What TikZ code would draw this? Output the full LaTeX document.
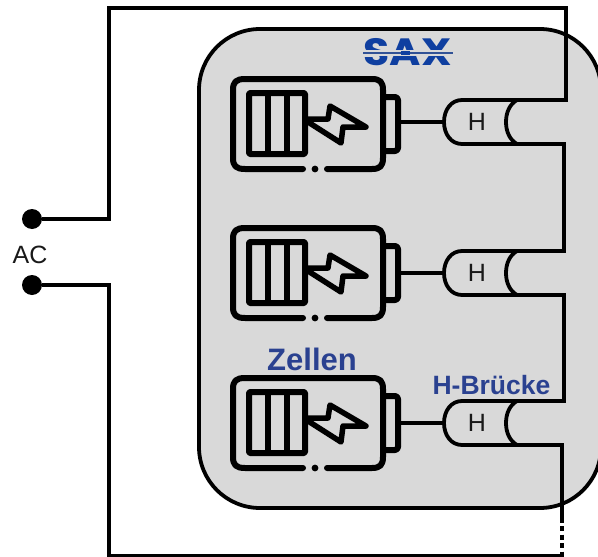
\documentclass[tikz,border=0pt]{standalone}
\usepackage{fontspec}
\setmainfont{Liberation Sans}
\newfontfamily\logofont{Poppins}
\definecolor{boxgray}{HTML}{D9D9D9}
\definecolor{labelblue}{HTML}{2A4190}
\definecolor{logoblue}{HTML}{0F3FA0}
\tikzset{
  wire/.style={line width=3.6pt,line cap=butt,line join=miter},
  batline/.style={line width=6pt,line join=round,line cap=round},
  bridge/.style={line width=3.8pt,line cap=round},
  plain/.style={font=\fontsize{25}{25}\selectfont,text=black!90,inner sep=0pt},
  bluelabel/.style={font=\fontsize{26.5}{27}\selectfont\bfseries,text=labelblue,inner sep=0pt},
  terminal/.style={circle,fill=black,inner sep=0pt,minimum size=20pt},
  pics/battery/.style={code={
    \draw[batline] (303,169)--(245,169) .. controls (236,169) and (233,166) .. (233,158)
       -- (233,90) .. controls (233,82) and (236,79) .. (245,79) -- (372,79) .. controls (380,79) and (383,82) .. (383,90)
       -- (383,158) .. controls (383,166) and (380,169) .. (372,169) -- (327,169);
    \fill (315,169) circle (3.4pt);
    \draw[batline,rounded corners=1pt] (249,93) rectangle (305,154);
    \draw[line width=6pt] (268,93)--(268,154) (287,93)--(287,154);
    \draw[line width=5.5pt,line join=round,line cap=round] (308,119)--(328,119)--(330,106)--(366,127)--(343,127)--(341,143)--(308,122);
    \draw[batline,rounded corners=3pt] (384,97)--(398,97)--(398,151)--(384,151);
  }},
  pics/hbridge/.style={code={
    \draw[bridge] (519,100)--(462,100) .. controls (451,100) and (444,110) .. (444,122) .. controls (444,134) and (451,144) .. (462,144)--(519,144);
    \draw[bridge] (517,100) .. controls (510,104) and (506,112) .. (506,122) .. controls (506,132) and (510,140) .. (517,144);
  }}
}
\begin{document}
\begin{tikzpicture}[x=1pt,y=-1pt]
\useasboundingbox (0,0) rectangle (598,557);
\begin{scope}
\clip (0,0) rectangle (598,557);
\draw[fill=boxgray,line width=3.8pt,rounded corners=61pt] (199,29) rectangle (601,508);
\end{scope}

% logo
\node[inner sep=0pt,text=logoblue] (logo) at (407.5,52.5) {\scalebox{1.12}[1]{\logofont\fontsize{38}{38}\selectfont\bfseries SAX}};
\fill[boxgray] (358,50) rectangle (457,56);
\draw[logoblue!70!gray,line width=1.2pt] (363,53)--(453,53);
\fill[logoblue] (401,51) rectangle (410,55);

% batteries
\pic {battery};
\pic[yshift=-149pt] {battery};
\pic[yshift=-299pt] {battery};

% bridges
\pic {hbridge};
\pic[yshift=-151pt] {hbridge};
\pic[yshift=-301pt] {hbridge};
\node[plain] (h1) at (477,122) {H};
\node[plain] (h2) at (477,273) {H};
\node[plain] (h3) at (477,423) {H};

\coordinate (b1) at (401,122); \coordinate (l1) at (444,122);
\coordinate (b2) at (401,273); \coordinate (l2) at (444,273);
\coordinate (b3) at (401,423); \coordinate (l3) at (444,423);
\draw[wire] (b1)--(l1);
\draw[wire] (b2)--(l2);
\draw[wire] (b3)--(l3);

% AC terminals and wiring
\node[terminal] (ac1) at (32,219) {};
\node[terminal] (ac2) at (32,285) {};
\node[plain] (ac) at (30,255) {AC};
\coordinate (t1) at (566,100);
\coordinate (t2) at (564,144);
\coordinate (t3) at (564,251);
\coordinate (t4) at (564,295);
\coordinate (t5) at (564,401);
\coordinate (t6) at (562,445);
\draw[wire] (ac1)--(109,219)--(109,8)--(566,8)--(t1)--(517,100);
\draw[wire] (517,144)--(t2)--(t3)--(517,251);
\draw[wire] (517,295)--(t4)--(t5)--(517,401);
\draw[wire] (517,445)--(t6)--(562,523);
\draw[wire,dash pattern=on 5pt off 3.5pt] (562,526)--(562,557);
\draw[wire] (ac2)--(109,285)--(109,555.5)--(562,555.5);

\node[bluelabel,font=\fontsize{31}{31}\selectfont\bfseries] (zellen) at (312,359) {Zellen};
\node[bluelabel] (hb) at (491.5,385) {H-Brücke};
\end{tikzpicture}
\end{document}
